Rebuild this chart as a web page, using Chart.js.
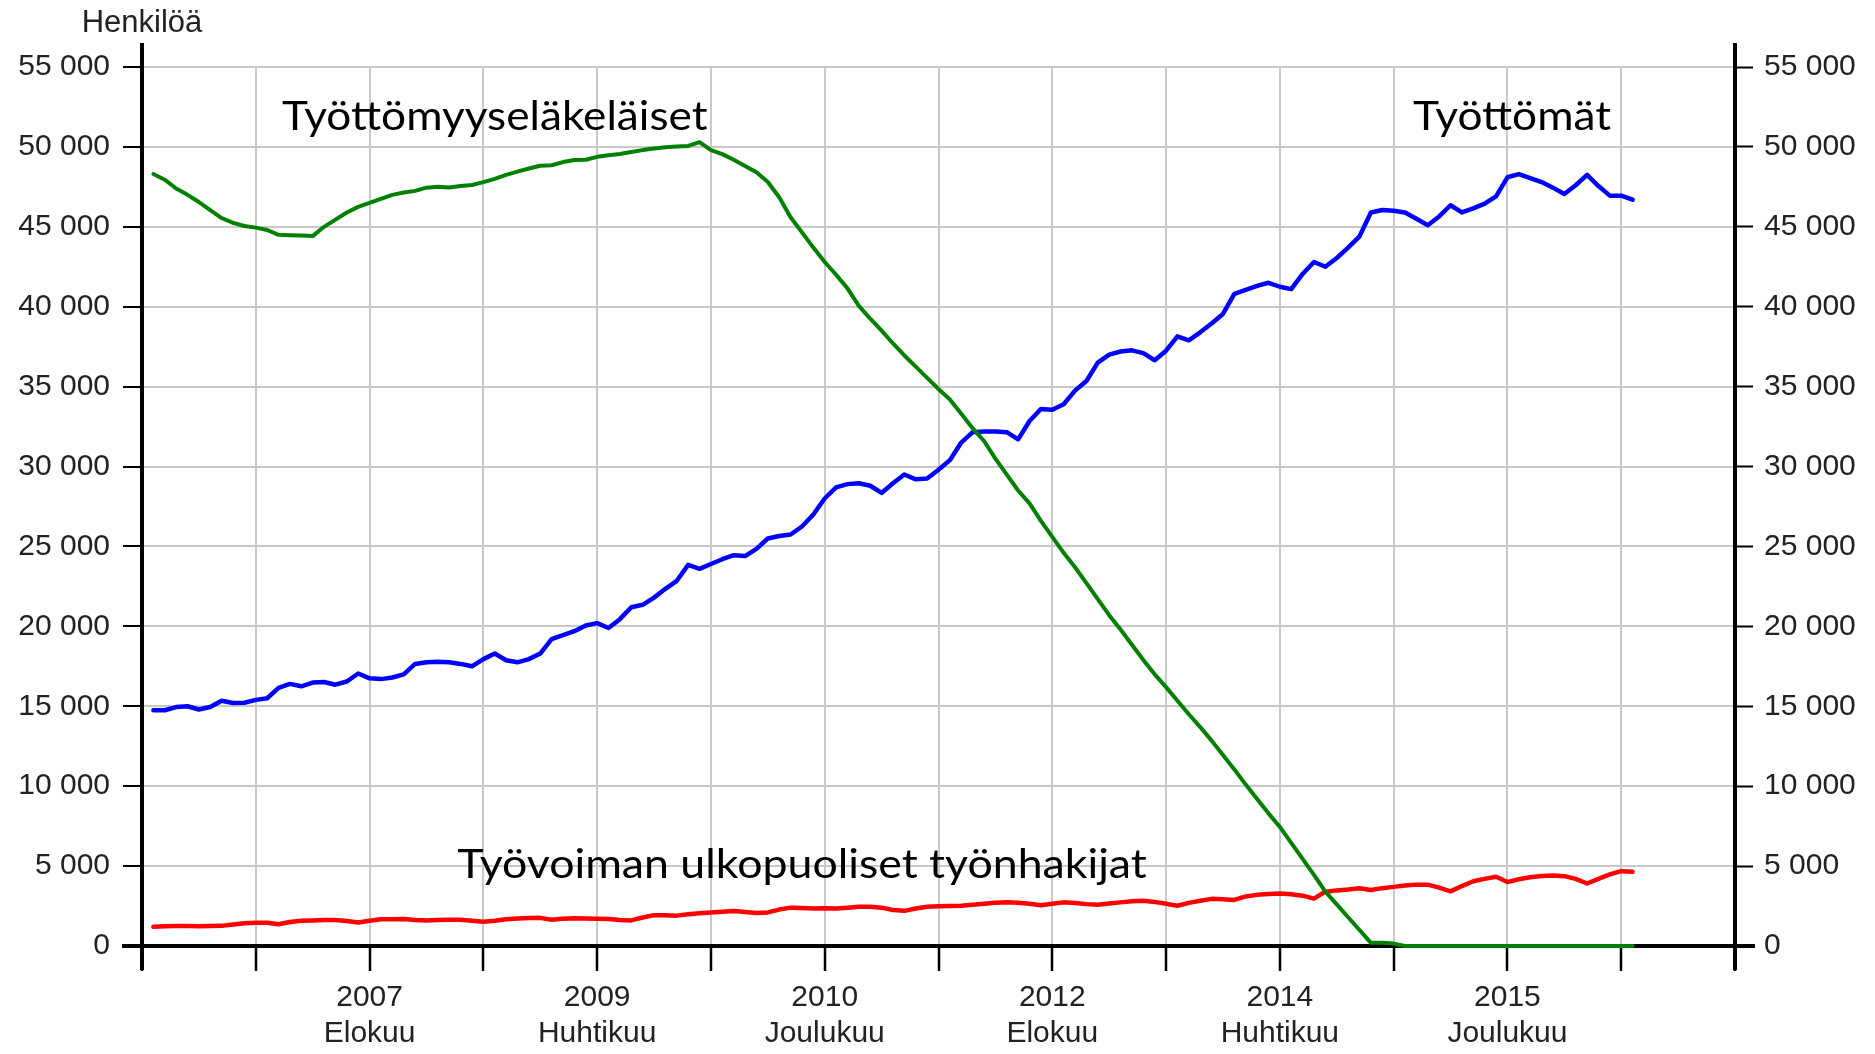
<!DOCTYPE html>
<html>
<head>
<meta charset="utf-8">
<script src="https://cdn.jsdelivr.net/npm/chart.js@4"></script>
<style>
  html, body { margin: 0; padding: 0; background: #fff; }
  #wrap { width: 1875px; height: 1054px; }
</style>
</head>
<body>
<div id="wrap"><canvas id="lineChart" width="1875" height="1054"></canvas></div>
<script>
// axis runs from Dec 2005 (month 0) to Aug 2017 (month 140); data Jan 2006 .. Nov 2016
const axisMonths = 140;
const firstDataMonth = 1;

// Työttömyyseläkeläiset (green)
const pensioners = [
  48300, 47950, 47400, 47000, 46550, 46050, 45550, 45250, 45050, 44950,
  44800, 44500, 44480, 44450, 44420, 45000, 45450, 45900, 46250, 46500,
  46750, 47000, 47150, 47250, 47450, 47500, 47460, 47550, 47620, 47800,
  48000, 48250, 48450, 48650, 48820, 48850, 49050, 49180, 49200, 49380,
  49480, 49560, 49680, 49800, 49900, 49980, 50030, 50060, 50300, 49800,
  49550, 49200, 48800, 48420, 47800, 46850, 45600, 44650, 43700, 42800,
  42000, 41150, 40050, 39250, 38500, 37700, 36950, 36250, 35550, 34850,
  34200, 33300, 32400, 31600, 30500, 29500, 28500, 27700, 26600, 25600,
  24600, 23700, 22700, 21700, 20700, 19800, 18850, 17900, 17000, 16200,
  15350, 14500, 13700, 12850, 11950, 11050, 10100, 9200, 8300, 7450,
  6450, 5450, 4450, 3400, 2600, 1800, 1000, 200, 200, 150,
  0, 0, 0, 0, 0, 0, 0, 0, 0, 0,
  0, 0, 0, 0, 0, 0, 0, 0, 0, 0,
  0
];

// Työttömät (blue)
const unemployed = [
  14750, 14750, 14950, 15000, 14800, 14950, 15350, 15200, 15220, 15400,
  15500, 16150, 16400, 16250, 16480, 16520, 16350, 16550, 17050, 16750,
  16700, 16800, 17000, 17650, 17750, 17780, 17750, 17650, 17500, 17950,
  18300, 17880, 17750, 17950, 18300, 19200, 19450, 19700, 20050, 20200,
  19900, 20450, 21200, 21350, 21800, 22350, 22850, 23850, 23600, 23900,
  24200, 24450, 24400, 24850, 25500, 25650, 25750, 26250, 27000, 28000,
  28700, 28900, 28950, 28800, 28350, 28950, 29500, 29200, 29250, 29800,
  30400, 31500, 32150, 32200, 32200, 32150, 31700, 32850, 33600, 33550,
  33900, 34750, 35350, 36500, 37000, 37200, 37270, 37100, 36650, 37250,
  38150, 37900, 38400, 38950, 39550, 40800, 41050, 41300, 41500, 41250,
  41100, 42050, 42800, 42500, 43050, 43700, 44400, 45900, 46050, 46000,
  45900, 45500, 45100, 45650, 46350, 45900, 46150, 46450, 46900, 48100,
  48300, 48050, 47800, 47450, 47050, 47600, 48250, 47550, 46950, 46950,
  46700
];

// Työvoiman ulkopuoliset työnhakijat (red)
const outsideLabour = [
  1200, 1230, 1250, 1250, 1240, 1250, 1260, 1350, 1430, 1460,
  1450, 1360, 1500, 1580, 1600, 1620, 1630, 1560, 1470, 1580,
  1670, 1680, 1690, 1620, 1600, 1630, 1650, 1640, 1580, 1520,
  1580, 1670, 1720, 1750, 1760, 1640, 1700, 1730, 1720, 1700,
  1690, 1620, 1600, 1780, 1930, 1920, 1900, 1980, 2050, 2100,
  2150, 2190, 2130, 2060, 2100, 2280, 2400, 2380, 2350, 2360,
  2350, 2400, 2450, 2450, 2400, 2250, 2200, 2350, 2450, 2480,
  2500, 2520, 2580, 2650, 2700, 2730, 2710, 2650, 2550, 2650,
  2730, 2690, 2620, 2580, 2660, 2730, 2800, 2830, 2760, 2640,
  2520, 2700, 2830, 2950, 2920, 2880, 3100, 3200, 3260, 3280,
  3240, 3150, 2960, 3400, 3480, 3530, 3610, 3500, 3620, 3700,
  3780, 3840, 3840, 3650, 3420, 3750, 4050, 4200, 4330, 4000,
  4180, 4300, 4380, 4410, 4370, 4200, 3910, 4200, 4480, 4680,
  4640
];

// x tick labels, months counted from Dec 2005
const tickPositions = [20, 40, 60, 80, 100, 120];
const tickYears = ['2007', '2009', '2010', '2012', '2014', '2015'];
const tickMonths = ['Elokuu', 'Huhtikuu', 'Joulukuu', 'Elokuu', 'Huhtikuu', 'Joulukuu'];

function toPoints(values) {
  return values.map((v, i) => ({ x: firstDataMonth + i, y: v }));
}

const gridGray = '#c9c9c9';
const tickFont = { family: "'Liberation Sans', Arial, sans-serif", size: 30 };

// black axis frame, drawn under the lines (green runs along the zero line)
const axisFrame = {
  id: 'axisFrame',
  beforeDatasetsDraw(chart) {
    const { ctx, chartArea } = chart;
    ctx.save();
    ctx.strokeStyle = '#000';
    ctx.lineWidth = 4;
    ctx.beginPath();
    ctx.moveTo(chartArea.left, chartArea.top - 24);
    ctx.lineTo(chartArea.left, chartArea.bottom + 24);
    ctx.moveTo(chartArea.right, chartArea.top - 24);
    ctx.lineTo(chartArea.right, chartArea.bottom + 24);
    ctx.stroke();
    ctx.beginPath();
    ctx.moveTo(chartArea.left - 20, chartArea.bottom);
    ctx.lineTo(chartArea.right + 20, chartArea.bottom);
    ctx.stroke();
    ctx.restore();
  }
};

// unit label and series names
const seriesNames = {
  id: 'seriesNames',
  afterDraw(chart) {
    const { ctx, chartArea } = chart;
    const xs = chart.scales.x;
    const ys = chart.scales.y;
    ctx.save();
    ctx.fillStyle = '#222';
    ctx.font = "31px 'Liberation Sans', Arial, sans-serif";
    ctx.textAlign = 'center';
    ctx.textBaseline = 'middle';
    ctx.fillText('Henkilöä', chartArea.left, 23);

    const labels = [
      { text: 'Työttömyyseläkeläiset', from: 12.3, to: 49.7, y: 51040 },
      { text: 'Työttömät', from: 111.7, to: 129.1, y: 51040 },
      { text: 'Työvoiman ulkopuoliset työnhakijat', from: 27.7, to: 88.3, y: 4250 }
    ];
    ctx.fillStyle = '#000';
    ctx.font = "41px Lato, 'Open Sans', sans-serif";
    ctx.textAlign = 'left';
    ctx.textBaseline = 'alphabetic';
    labels.forEach(l => {
      const x0 = xs.getPixelForValue(l.from);
      const x1 = xs.getPixelForValue(l.to);
      const y = ys.getPixelForValue(l.y);
      const w = ctx.measureText(l.text).width;
      ctx.save();
      ctx.translate(x0, y);
      ctx.scale((x1 - x0) / w, 1);
      ctx.fillText(l.text, 0, 0);
      ctx.restore();
    });
    ctx.restore();
  }
};

const ctx = document.getElementById('lineChart').getContext('2d');
new Chart(ctx, {
  type: 'line',
  data: {
    datasets: [
      {
        label: 'Työttömyyseläkeläiset',
        data: toPoints(pensioners),
        borderColor: '#008000',
        borderWidth: 4,
        order: 0,
      },
      {
        label: 'Työttömät',
        data: toPoints(unemployed),
        borderColor: '#0000ff',
        borderWidth: 4.5,
        order: 1,
      },
      {
        label: 'Työvoiman ulkopuoliset työnhakijat',
        data: toPoints(outsideLabour),
        borderColor: '#ff0000',
        borderWidth: 4.5,
        order: 2,
      },
    ],
  },
  options: {
    responsive: false,
    animation: false,
    devicePixelRatio: 1,
    layout: { padding: { top: 67, left: 0, right: 0, bottom: 0 } },
    elements: {
      point: { radius: 0 },
      line: { tension: 0, borderJoinStyle: 'round', borderCapStyle: 'round' },
    },
    datasets: { line: { clip: false } },
    plugins: {
      legend: { display: false },
      tooltip: { enabled: false },
    },
    scales: {
      x: {
        type: 'linear',
        min: 0,
        max: axisMonths,
        afterFit: (scale) => { scale.height = 108; },
        border: { display: false },
        grid: { color: gridGray, lineWidth: 2, tickLength: 25, tickColor: '#000', tickWidth: 2.5 },
        ticks: {
          stepSize: 10,
          autoSkip: false,
          maxRotation: 0,
          padding: 8,
          color: '#222',
          font: { family: tickFont.family, size: 30, lineHeight: 1.22 },
          callback: (value) => {
            const i = tickPositions.indexOf(value);
            return i >= 0 ? [tickYears[i], tickMonths[i]] : '';
          },
        },
      },
      y: {
        position: 'left',
        min: 0,
        max: 55000,
        afterFit: (scale) => { scale.width = 142; },
        border: { display: false },
        grid: { color: gridGray, lineWidth: 2, tickLength: 19, tickColor: '#000', tickWidth: 2 },
        ticks: {
          stepSize: 5000,
          padding: 13,
          color: '#222',
          font: tickFont,
          callback: (v) => v === 0 ? '0' : (v / 1000) + ' 000',
        },
      },
      y2: {
        position: 'right',
        min: 0,
        max: 55000,
        afterFit: (scale) => { scale.width = 140; },
        border: { display: false },
        grid: { drawOnChartArea: false, tickLength: 18, tickColor: '#000', tickWidth: 2 },
        ticks: {
          stepSize: 5000,
          padding: 11,
          color: '#222',
          font: tickFont,
          callback: (v) => v === 0 ? '0' : (v / 1000) + ' 000',
        },
      },
    },
  },
  plugins: [axisFrame, seriesNames],
});
</script>
</body>
</html>
